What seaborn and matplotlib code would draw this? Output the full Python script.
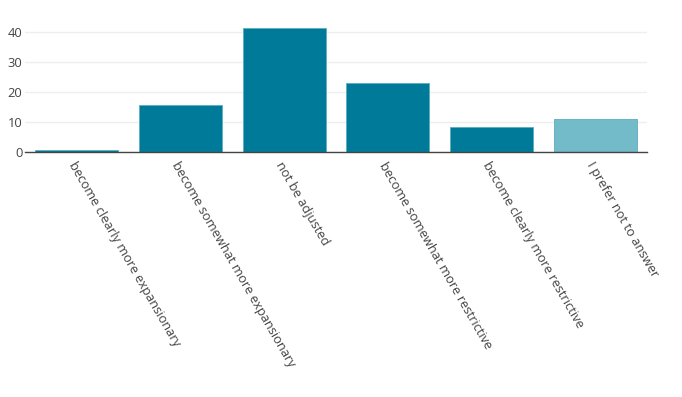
import pandas as pd
import numpy as np
import matplotlib
matplotlib.use('Agg')
import matplotlib.pyplot as plt
import seaborn as sns

# answers and shares
answers = ['become clearly more expansionary', 'become somewhat more expansionary',
           'not be adjusted', 'become somewhat more restrictive',
           'become clearly more restrictive', 'I prefer not to answer']
shares = [0.7, 15.5, 41.2, 22.9, 8.1, 10.8]
bar_colors = ['#007a99', '#007a99', '#007a99', '#007a99', '#007a99', '#74bbca']
y_ticks = [0, 10, 20, 30, 40]

df = pd.DataFrame({'answer': answers, 'share': shares})

sns.set_style('white')
plt.rcParams['font.family'] = ['Open Sans', 'DejaVu Sans']

fig = plt.figure(figsize=(6.82, 3.97), dpi=100)
ax = fig.add_axes([0.0367, 0.618, 0.912, 0.327])

sns.barplot(data=df, x='answer', y='share', hue='answer', palette=bar_colors,
            legend=False, width=0.8, saturation=1, ax=ax,
            edgecolor='#5aaec0', linewidth=0.6)

ax.set_ylim(0, 43.4)
ax.set_xlim(-0.5, 5.5)
ax.set_yticks(y_ticks)
ax.yaxis.grid(True, color='#eeeeee', linewidth=1)
ax.set_axisbelow(True)
ax.set_xlabel('')
ax.set_ylabel('')

for s in ['top', 'right', 'left']:
    ax.spines[s].set_visible(False)
ax.spines['bottom'].set_color('#444444')
ax.spines['bottom'].set_linewidth(1)

ax.tick_params(axis='y', length=0, pad=2, labelsize=9.3, labelcolor='#444444')
ax.tick_params(axis='x', length=0, pad=6, labelsize=9.3, labelcolor='#444444')
plt.setp(ax.get_xticklabels(), rotation=-60, ha='left', va='top', rotation_mode='anchor')

fig.savefig('out.png', dpi=100)
